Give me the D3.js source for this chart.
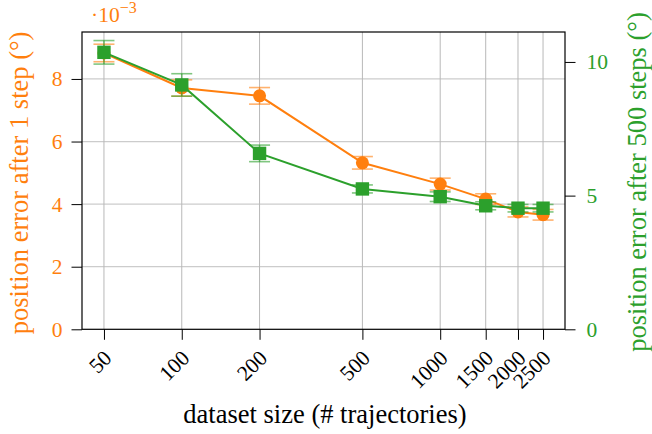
<!DOCTYPE html>
<html>
<head>
<meta charset="utf-8">
<script src="https://cdn.jsdelivr.net/npm/d3@7"></script>
<style>
  html, body { margin: 0; padding: 0; background: #fff; }
  svg { display: block; }
  text { font-family: "Liberation Serif", "DejaVu Serif", serif; }
</style>
</head>
<body>
<svg id="chart" width="652" height="434"></svg>
<script>
// Dataset sizes (number of trajectories)
const sizes = [50, 100, 200, 500, 1000, 1500, 2000, 2500];
const xTickLabels = ["50", "100", "200", "500", "1000", "1500", "2000", "2500"];

// Position error after 1 step (degrees), with error bar half-widths
const err1Step = [8.83e-3, 7.71e-3, 7.46e-3, 5.32e-3, 4.64e-3, 4.16e-3, 3.75e-3, 3.66e-3];
const err1StepSd = [0.28e-3, 0.26e-3, 0.265e-3, 0.2e-3, 0.19e-3, 0.17e-3, 0.16e-3, 0.17e-3];

// Position error after 500 steps (degrees), with error bar half-widths
const err500Steps = [10.36, 9.14, 6.58, 5.25, 4.96, 4.62, 4.53, 4.53];
const err500StepsSd = [0.44, 0.42, 0.31, 0.15, 0.18, 0.15, 0.14, 0.14];

const leftTicks = [0, 2e-3, 4e-3, 6e-3, 8e-3];
const leftTickLabels = ["0", "2", "4", "6", "8"];
const rightTicks = [0, 5, 10];
const rightTickLabels = ["0", "5", "10"];

const orange = "#ff7f0e";
const green = "#2ca02c";
const tickFont = 21.5;
const labelFont = 26.5;

const svg = d3.select("#chart");
const plot = { left: 82, right: 565, top: 32, bottom: 329.3 };

// log x scale with 5% padding on each side (in log space)
const pad = 0.05 * (Math.log10(2500) - Math.log10(50));
const x = d3.scaleLog()
  .domain([50 / Math.pow(10, pad), 2500 * Math.pow(10, pad)])
  .range([plot.left, plot.right]);
const yL = d3.scaleLinear().domain([0, 9.5e-3]).range([plot.bottom, plot.top]);
const yR = d3.scaleLinear().domain([0, 11.12]).range([plot.bottom, plot.top]);

// Grid
const grid = svg.append("g");
grid.selectAll("line.hg").data(leftTicks.slice(1)).join("line")
  .attr("x1", plot.left).attr("x2", plot.right)
  .attr("y1", d => yL(d)).attr("y2", d => yL(d))
  .attr("stroke", "#cccccc").attr("stroke-width", 1.2);
grid.selectAll("line.vg").data(sizes).join("line")
  .attr("x1", d => x(d)).attr("x2", d => x(d))
  .attr("y1", plot.top).attr("y2", plot.bottom)
  .attr("stroke", "#b8b8b8").attr("stroke-width", 1);

// Axes
const tickLen = 10.5;
const axisL = d3.axisLeft(yL).tickValues(leftTicks)
  .tickFormat((d, i) => leftTickLabels[i]).tickSize(tickLen).tickPadding(9);
const axisR = d3.axisRight(yR).tickValues(rightTicks)
  .tickFormat((d, i) => rightTickLabels[i]).tickSize(tickLen).tickPadding(11);
const axisB = d3.axisBottom(x).tickValues(sizes)
  .tickFormat((d, i) => xTickLabels[i]).tickSize(tickLen);

const gL = svg.append("g").attr("transform", `translate(${plot.left},0)`).call(axisL);
const gR = svg.append("g").attr("transform", `translate(${plot.right},0)`).call(axisR);
const gB = svg.append("g").attr("transform", `translate(0,${plot.bottom})`).call(axisB);

[gL, gR, gB].forEach(g => {
  g.select(".domain").remove();
  g.selectAll(".tick line").attr("stroke", "#000").attr("stroke-width", 1);
  g.selectAll(".tick text").attr("font-size", tickFont);
});
gL.selectAll(".tick text").attr("fill", orange);
gR.selectAll(".tick text").attr("fill", green);
gB.selectAll(".tick text")
  .attr("fill", "#000")
  .attr("text-anchor", "end")
  .attr("dy", 0)
  .attr("y", 0)
  .attr("transform", "translate(8.5,30) rotate(-45)");

// Box
svg.append("rect")
  .attr("x", plot.left).attr("y", plot.top)
  .attr("width", plot.right - plot.left).attr("height", plot.bottom - plot.top)
  .attr("fill", "none").attr("stroke", "#000").attr("stroke-width", 1.2);

// Series drawing helper
function drawSeries(vals, sds, yScale, color, shape) {
  const g = svg.append("g");
  const pts = sizes.map((s, i) => ({ s, v: vals[i], e: sds[i] }));
  g.append("path")
    .datum(pts)
    .attr("fill", "none").attr("stroke", color).attr("stroke-width", 2)
    .attr("d", d3.line().x(d => x(d.s)).y(d => yScale(d.v)));
  const eb = g.selectAll("g.eb").data(pts).join("g")
    .attr("stroke", color).attr("stroke-opacity", 0.6).attr("stroke-width", 1.6);
  eb.append("line")
    .attr("x1", d => x(d.s)).attr("x2", d => x(d.s))
    .attr("y1", d => yScale(d.v - d.e)).attr("y2", d => yScale(d.v + d.e));
  [-1, 1].forEach(sgn => {
    eb.append("line")
      .attr("x1", d => x(d.s) - 10.5).attr("x2", d => x(d.s) + 10.5)
      .attr("y1", d => yScale(d.v + sgn * d.e)).attr("y2", d => yScale(d.v + sgn * d.e));
  });
  if (shape === "circle") {
    g.selectAll("circle").data(pts).join("circle")
      .attr("cx", d => x(d.s)).attr("cy", d => yScale(d.v)).attr("r", 6.5)
      .attr("fill", color);
  } else {
    g.selectAll("rect.m").data(pts).join("rect")
      .attr("x", d => x(d.s) - 6.7).attr("y", d => yScale(d.v) - 6.7)
      .attr("width", 13.4).attr("height", 13.4)
      .attr("fill", color);
  }
}

drawSeries(err1Step, err1StepSd, yL, orange, "circle");
drawSeries(err500Steps, err500StepsSd, yR, green, "square");

// Axis labels
svg.append("text")
  .attr("transform", "translate(28,183) rotate(-90)")
  .attr("text-anchor", "middle").attr("fill", orange).attr("font-size", labelFont)
  .text("position error after 1 step (°)");
svg.append("text")
  .attr("transform", "translate(646,182) rotate(-90)")
  .attr("text-anchor", "middle").attr("fill", green).attr("font-size", labelFont)
  .text("position error after 500 steps (°)");
svg.append("text")
  .attr("x", 325).attr("y", 423)
  .attr("text-anchor", "middle").attr("fill", "#000").attr("font-size", labelFont)
  .text("dataset size (# trajectories)");

// Scale factor label for the left axis
const sf = svg.append("text").attr("x", 91).attr("y", 22).attr("fill", orange).attr("font-size", 21.5);
sf.append("tspan").text("·10");
sf.append("tspan").attr("dy", -9).attr("font-size", 16).text("−3");
</script>
</body>
</html>
